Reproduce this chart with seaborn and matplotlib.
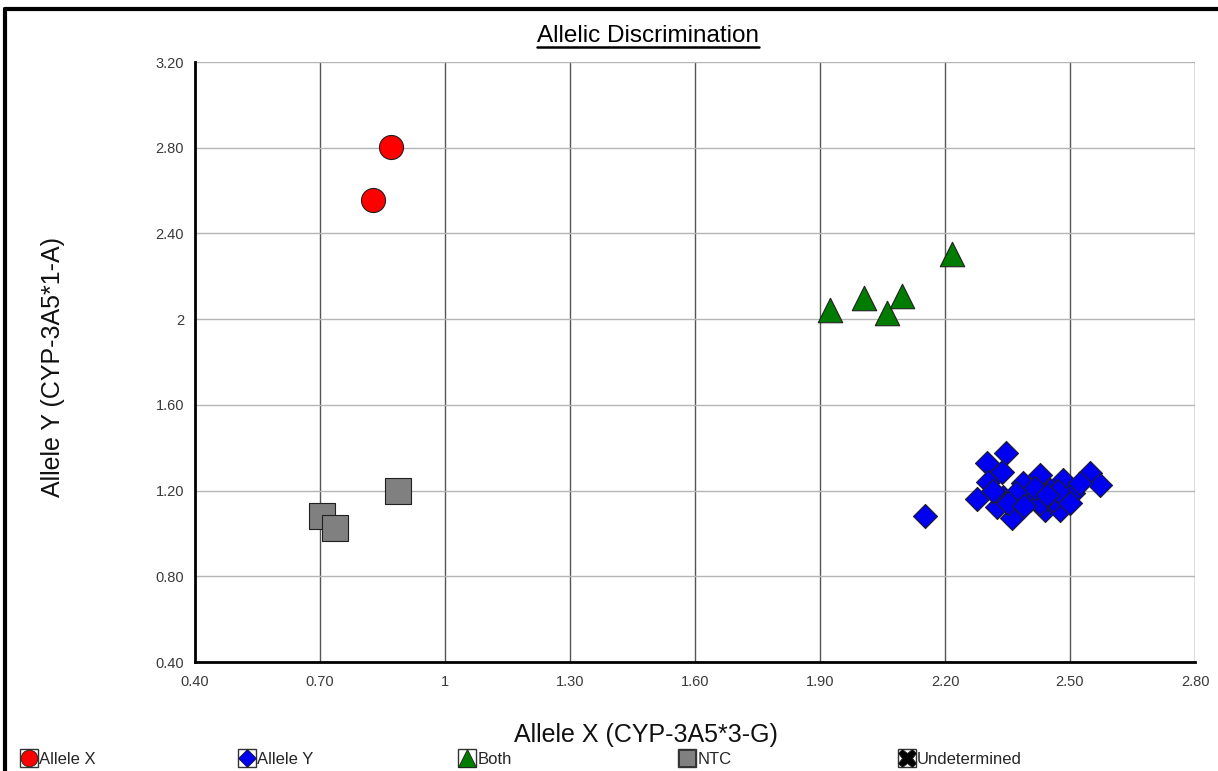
import pandas as pd
import seaborn as sns
import matplotlib.pyplot as plt
from matplotlib.lines import Line2D

# Data
allele_x_x = [0.870, 0.827]
allele_x_y = [2.803, 2.556]

both_x = [1.925, 2.006, 2.060, 2.097, 2.217]
both_y = [2.045, 2.100, 2.030, 2.110, 2.305]

ntc_x = [0.705, 0.736, 0.887]
ntc_y = [1.082, 1.025, 1.198]

allele_y_x = [2.152, 2.346, 2.300, 2.337, 2.303, 2.277, 2.325, 2.360, 2.340, 2.387,
              2.428, 2.404, 2.440, 2.476, 2.483, 2.507, 2.548, 2.572, 2.452, 2.524,
              2.370, 2.460, 2.428, 2.500, 2.315, 2.350, 2.415, 2.470, 2.390, 2.445]
allele_y_y = [1.080, 1.375, 1.330, 1.287, 1.240, 1.161, 1.123, 1.072, 1.170, 1.235,
              1.273, 1.156, 1.110, 1.110, 1.250, 1.189, 1.282, 1.226, 1.203, 1.235,
              1.190, 1.156, 1.142, 1.142, 1.200, 1.140, 1.210, 1.200, 1.130, 1.180]

x_ticks = [0.40, 0.70, 1.00, 1.30, 1.60, 1.90, 2.20, 2.50, 2.80]
x_tick_labels = ['0.40', '0.70', '1', '1.30', '1.60', '1.90', '2.20', '2.50', '2.80']
y_ticks = [0.40, 0.80, 1.20, 1.60, 2.00, 2.40, 2.80, 3.20]
y_tick_labels = ['0.40', '0.80', '1.20', '1.60', '2', '2.40', '2.80', '3.20']

groups = ['Allele X', 'Allele Y', 'Both', 'NTC', 'Undetermined']
colors = {'Allele X': '#ff0000', 'Allele Y': '#0000f0', 'Both': '#007d00',
          'NTC': '#808080', 'Undetermined': '#000000'}
markers = {'Allele X': 'o', 'Allele Y': 'D', 'Both': '^', 'NTC': 's', 'Undetermined': 'X'}
sizes = {'Allele X': 300, 'Allele Y': 150, 'Both': 310, 'NTC': 330, 'Undetermined': 200}

df = pd.concat([
    pd.DataFrame({'x': allele_x_x, 'y': allele_x_y, 'call': 'Allele X'}),
    pd.DataFrame({'x': allele_y_x, 'y': allele_y_y, 'call': 'Allele Y'}),
    pd.DataFrame({'x': both_x, 'y': both_y, 'call': 'Both'}),
    pd.DataFrame({'x': ntc_x, 'y': ntc_y, 'call': 'NTC'}),
], ignore_index=True)

sns.set_style('white')
plt.rcParams['font.family'] = ['Liberation Sans', 'DejaVu Sans']

fig = plt.figure(figsize=(12.18, 7.71), dpi=100)
ax = fig.add_axes([195 / 1218, 1 - 662 / 771, 1000 / 1218, 600 / 771])

for g in ['Allele X', 'Both', 'NTC', 'Allele Y']:
    sub = df[df['call'] == g]
    sns.scatterplot(data=sub, x='x', y='y', ax=ax, color=colors[g], marker=markers[g],
                    s=sizes[g], edgecolor='#202020', linewidth=0.8, legend=False, zorder=3)

ax.set_xlim(0.40, 2.80)
ax.set_ylim(0.40, 3.20)
ax.set_xticks(x_ticks)
ax.set_xticklabels(x_tick_labels)
ax.set_yticks(y_ticks)
ax.set_yticklabels(y_tick_labels)
ax.tick_params(axis='both', labelsize=10.5, labelcolor='#3a3a3a', length=0)
ax.tick_params(axis='y', pad=8)
ax.tick_params(axis='x', pad=9)
ax.set_xlabel('')
ax.set_ylabel('')

for xv in x_ticks:
    ax.axvline(xv, color='#555555', linewidth=1.0, zorder=1)
for yv in y_ticks:
    ax.axhline(yv, color='#b5b5b5', linewidth=1.0, zorder=1)

sns.despine(ax=ax, top=True, right=True)
ax.spines['left'].set_linewidth(2)
ax.spines['bottom'].set_linewidth(2)
ax.spines['left'].set_color('black')
ax.spines['bottom'].set_color('black')
ax.spines['left'].set_zorder(4)
ax.spines['bottom'].set_zorder(4)

# title with underline
title = fig.text(648 / 1218, 1 - 42 / 771, 'Allelic Discrimination', ha='center',
                 va='baseline', fontsize=17.5, color='black')
fig.canvas.draw()
bb = title.get_window_extent().transformed(fig.transFigure.inverted())
uy = 1 - 47 / 771
fig.add_artist(Line2D([bb.x0, bb.x1], [uy, uy], transform=fig.transFigure,
                      color='black', linewidth=1.8))

fig.text(646 / 1218, 1 - 735 / 771, 'Allele X (CYP-3A5*3-G)', ha='center', va='center',
         fontsize=18, color='#111111')
fig.text(53 / 1218, 1 - 367 / 771, 'Allele Y (CYP-3A5*1-A)', ha='center', va='center',
         rotation=90, fontsize=18, color='#111111')

# figure border (left and top)
fig.add_artist(Line2D([0.004, 0.004], [0, 1 - 9 / 771], transform=fig.transFigure,
                      color='black', linewidth=3))
fig.add_artist(Line2D([0.004, 1], [1 - 9 / 771, 1 - 9 / 771], transform=fig.transFigure,
                      color='black', linewidth=3))

# legend row, one entry every 220 px
legend_x = [20, 238, 458, 678, 898]
for g, lx in zip(groups, legend_x):
    box = Line2D([], [], marker='s', markersize=13, markerfacecolor='white',
                 markeredgecolor='#333333', linestyle='none')
    ms = {'o': 12, 'D': 9, '^': 13, 's': 12, 'X': 13}[markers[g]]
    mk = Line2D([], [], marker=markers[g], markersize=ms, markerfacecolor=colors[g],
                markeredgecolor='#202020', markeredgewidth=0.6, linestyle='none')
    leg = fig.legend(handles=[(box, mk)], labels=[g], loc='center left',
                     bbox_to_anchor=(lx / 1218, 1 - 759 / 771), frameon=False,
                     fontsize=12, handlelength=1.1, handletextpad=0.05,
                     borderpad=0, borderaxespad=0)

fig.savefig('out.png', dpi=100)
